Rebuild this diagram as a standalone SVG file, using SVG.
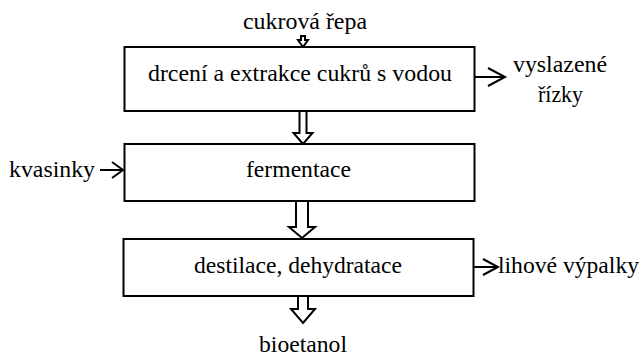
<svg xmlns="http://www.w3.org/2000/svg" width="644" height="360" viewBox="0 0 644 360">
<style>
.box{fill:#fff;stroke:#000;stroke-width:2}
.t{font-size:23.6px;fill:#000}
.ln{fill:none;stroke:#000;stroke-width:2}
.blk{fill:#fff;stroke:#000;stroke-width:2;stroke-linejoin:miter}
</style>
<rect width="644" height="360" fill="#fff"/>
<g id="connectors">
<path class="blk" d="M301,36 H305 V40 H308 L303,47 L298,40 H301 Z"/>
<path class="blk" d="M299.5,111 H306.5 V133 H312.5 L303,144 L293.5,133 H299.5 Z"/>
<path class="blk" d="M296,201 H308 V227 H315 L302,238 L289,227 H296 Z"/>
<path class="blk" d="M298,296 H308 V309 H315 L303,323 L291,309 H298 Z"/>
<path class="ln" d="M475,77 H505 M488,68 L505,77 L488,86"/>
<path class="ln" d="M100,170 H123 M112,162 L123,170 L112,178"/>
<path class="ln" d="M473,267 H498 M483,259 L498,267 L483,275"/>
</g>
<g font-family="'Times New Roman', Tinos, 'Liberation Serif', 'DejaVu Serif', FreeSerif, 'Noto Serif', serif">
<g id="input-cukrova-repa"><text class="t" x="243" y="29" textLength="124" lengthAdjust="spacingAndGlyphs">cukrová řepa</text></g>
<g id="drceni">
<rect class="box" x="124.5" y="47" width="350" height="64"/>
<text class="t" x="148" y="81" textLength="304" lengthAdjust="spacingAndGlyphs">drcení a extrakce cukrů s vodou</text>
</g>
<g id="vyslazene-rizky"><text class="t" x="513" y="72" textLength="94" lengthAdjust="spacingAndGlyphs">vyslazené</text><text class="t" x="538" y="102" textLength="45" lengthAdjust="spacingAndGlyphs">řízky</text></g>
<g id="kvasinky"><text class="t" x="9" y="177" textLength="86" lengthAdjust="spacingAndGlyphs">kvasinky</text></g>
<g id="fermentace">
<rect class="box" x="124.5" y="144" width="350" height="57"/>
<text class="t" x="246" y="177" textLength="105" lengthAdjust="spacingAndGlyphs">fermentace</text>
</g>
<g id="destilace">
<rect class="box" x="123.5" y="239" width="350" height="57"/>
<text class="t" x="194" y="273" textLength="208" lengthAdjust="spacingAndGlyphs">destilace, dehydratace</text>
</g>
<g id="lihove-vypalky"><text class="t" x="498" y="273" textLength="141" lengthAdjust="spacingAndGlyphs">lihové výpalky</text></g>
<g id="bioetanol"><text class="t" x="259" y="352" textLength="88" lengthAdjust="spacingAndGlyphs">bioetanol</text></g>
</g>
</svg>
